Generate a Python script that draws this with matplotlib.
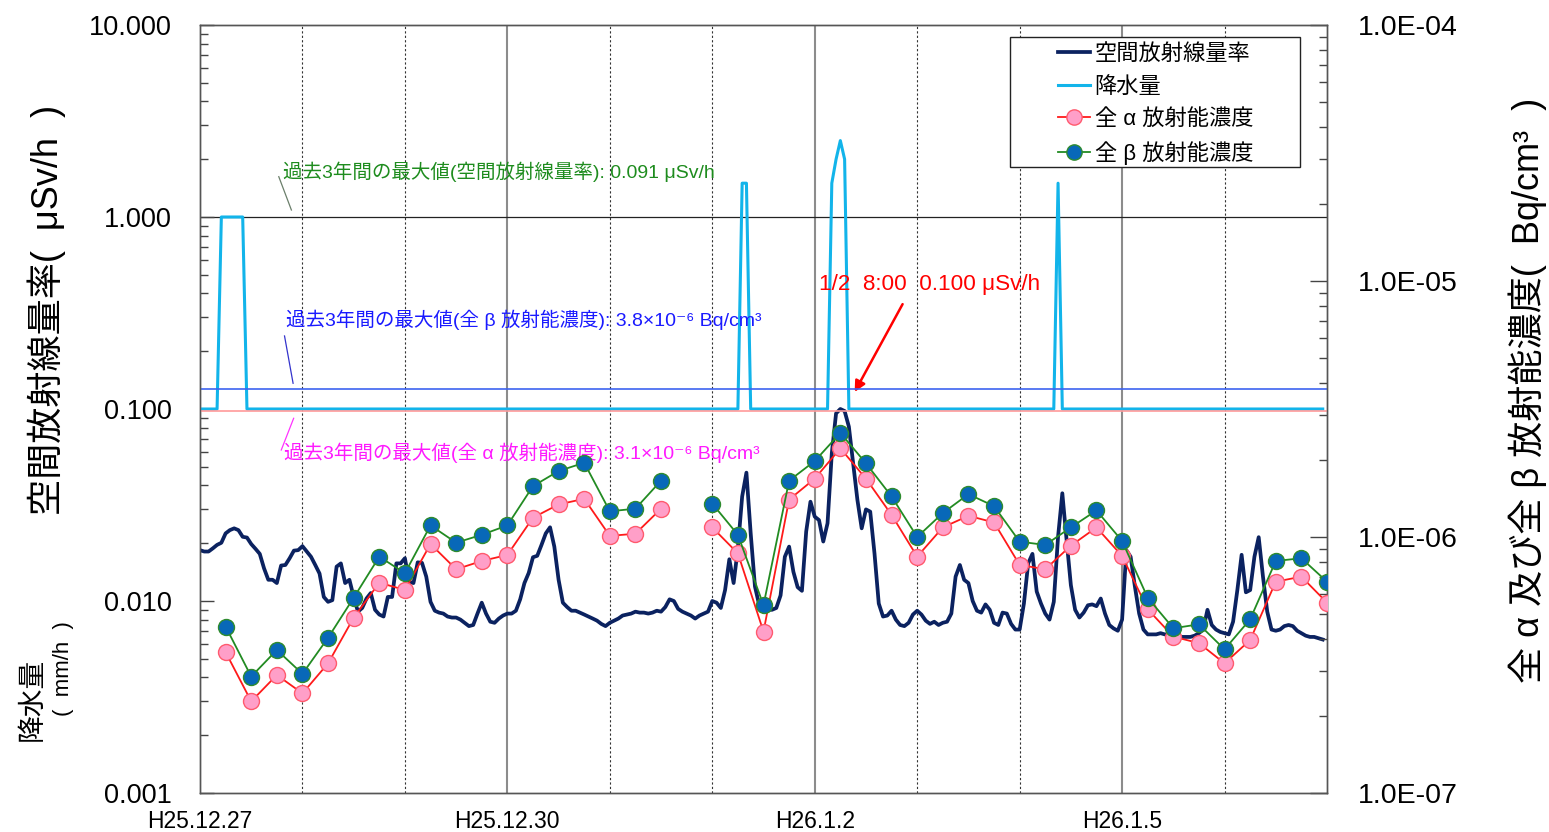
import numpy as np
import matplotlib
matplotlib.use("Agg")
import matplotlib.pyplot as plt
from matplotlib.patches import Rectangle

plt.rcParams['font.family'] = ['Liberation Sans', 'Noto Sans CJK JP', 'DejaVu Sans']
plt.rcParams['axes.unicode_minus'] = False

# ---------------- data ----------------
# hourly air dose rate (uSv/h), 264 hours from H25.12.27 0:00
dose = [
    0.0184, 0.0181, 0.0181, 0.0188, 0.0196, 0.0201, 0.0225, 0.0234, 0.0239, 0.0234,
    0.0216, 0.0214, 0.0198, 0.0187, 0.0176, 0.0148, 0.0129, 0.0129, 0.0124, 0.0153,
    0.0154, 0.0167, 0.0183, 0.0184, 0.0193, 0.0181, 0.0170, 0.0154, 0.0139, 0.0105,
    0.0099, 0.0101, 0.0151, 0.0157, 0.0124, 0.0129, 0.0105, 0.0088, 0.0092, 0.0103,
    0.0110, 0.0090, 0.0085, 0.0083, 0.0105, 0.0105, 0.0157, 0.0157, 0.0167, 0.0126,
    0.0124, 0.0159, 0.0158, 0.0134, 0.0099, 0.0089, 0.0087, 0.0086, 0.0083, 0.0082,
    0.0082, 0.0080, 0.0077, 0.0074, 0.0075, 0.0086, 0.0098, 0.0086, 0.0078, 0.0077,
    0.0081, 0.0084, 0.0086, 0.0086, 0.0089, 0.0102, 0.0124, 0.0140, 0.0169, 0.0172,
    0.0196, 0.0225, 0.0242, 0.0192, 0.0129, 0.0098, 0.0093, 0.0089, 0.0089, 0.0087,
    0.0085, 0.0083, 0.0081, 0.0079, 0.0076, 0.0074, 0.0077, 0.0079, 0.0081, 0.0084,
    0.0085, 0.0086, 0.0088, 0.0087, 0.0087, 0.0086, 0.0087, 0.0089, 0.0088, 0.0093,
    0.0102, 0.0100, 0.0091, 0.0088, 0.0086, 0.0084, 0.0081, 0.0084, 0.0086, 0.0088,
    0.0100, 0.0098, 0.0092, 0.0114, 0.0165, 0.0124, 0.0188, 0.0350, 0.0466, 0.0225,
    0.0119, 0.0095, 0.0090, 0.0090, 0.0090, 0.0092, 0.0107, 0.0170, 0.0192, 0.0142,
    0.0118, 0.0113, 0.0230, 0.0329, 0.0275, 0.0264, 0.0204, 0.0254, 0.0588, 0.0949,
    0.1000, 0.0976, 0.0809, 0.0521, 0.0336, 0.0239, 0.0300, 0.0292, 0.0177, 0.0097,
    0.0083, 0.0084, 0.0089, 0.0080, 0.0075, 0.0074, 0.0077, 0.0085, 0.0089, 0.0085,
    0.0079, 0.0076, 0.0078, 0.0075, 0.0077, 0.0078, 0.0086, 0.0134, 0.0154, 0.0129,
    0.0124, 0.0100, 0.0089, 0.0087, 0.0096, 0.0090, 0.0077, 0.0075, 0.0087, 0.0086,
    0.0076, 0.0071, 0.0071, 0.0097, 0.0157, 0.0176, 0.0112, 0.0097, 0.0086, 0.0080,
    0.0099, 0.0216, 0.0364, 0.0208, 0.0121, 0.0090, 0.0082, 0.0087, 0.0095, 0.0096,
    0.0094, 0.0103, 0.0086, 0.0075, 0.0072, 0.0070, 0.0080, 0.0184, 0.0170, 0.0119,
    0.0086, 0.0071, 0.0067, 0.0067, 0.0067, 0.0068, 0.0067, 0.0067, 0.0067, 0.0066,
    0.0065, 0.0065, 0.0065, 0.0066, 0.0068, 0.0071, 0.0090, 0.0075, 0.0071, 0.0069,
    0.0068, 0.0067, 0.0078, 0.0114, 0.0174, 0.0111, 0.0114, 0.0170, 0.0215, 0.0134,
    0.0088, 0.0071, 0.0070, 0.0071, 0.0074, 0.0075, 0.0074, 0.0070, 0.0068, 0.0066,
    0.0065, 0.0065, 0.0064, 0.0063,
]

# precipitation (mm/h): hours with rain and amounts
rain_hours = [5, 6, 7, 8, 9, 10, 127, 128, 148, 149, 150, 151, 201]
rain_mm = [1.0, 1.0, 1.0, 1.0, 1.0, 1.0, 1.5, 1.5, 1.5, 2.0, 2.5, 2.0, 1.5]

# 6-hourly gross alpha / beta concentrations (Bq/cm3)
dust_hours = [6, 12, 18, 24, 30, 36, 42, 48, 54, 60, 66, 72, 78, 84, 90, 96, 102, 108,
              114, 120, 126, 132, 138, 144, 150, 156, 162, 168, 174, 180, 186, 192,
              198, 204, 210, 216, 222, 228, 234, 240, 246, 252, 258, 264]
beta = [4.47e-7, 2.85e-7, 3.62e-7, 2.92e-7, 4.04e-7, 5.79e-7, 8.38e-7, 7.22e-7,
        1.11e-6, 9.50e-7, 1.02e-6, 1.11e-6, 1.58e-6, 1.81e-6, 1.95e-6, 1.26e-6,
        1.29e-6, 1.66e-6, np.nan, 1.35e-6, 1.02e-6, 5.42e-7, 1.66e-6, 1.98e-6,
        2.55e-6, 1.94e-6, 1.44e-6, 1.00e-6, 1.24e-6, 1.47e-6, 1.32e-6, 9.59e-7,
        9.31e-7, 1.09e-6, 1.27e-6, 9.65e-7, 5.79e-7, 4.40e-7, 4.56e-7, 3.64e-7,
        4.77e-7, 8.06e-7, 8.26e-7, 6.69e-7]
alpha = [3.55e-7, 2.28e-7, 2.89e-7, 2.45e-7, 3.21e-7, 4.84e-7, 6.63e-7, 6.21e-7,
         9.39e-7, 7.48e-7, 8.06e-7, 8.51e-7, 1.19e-6, 1.34e-6, 1.41e-6, 1.01e-6,
         1.03e-6, 1.29e-6, np.nan, 1.09e-6, 8.63e-7, 4.27e-7, 1.40e-6, 1.69e-6,
         2.22e-6, 1.69e-6, 1.22e-6, 8.38e-7, 1.09e-6, 1.21e-6, 1.14e-6, 7.78e-7,
         7.48e-7, 9.25e-7, 1.09e-6, 8.43e-7, 5.22e-7, 4.08e-7, 3.85e-7, 3.21e-7,
         3.96e-7, 6.69e-7, 7.00e-7, 5.54e-7]

max_dose = 0.091      # uSv/h (past 3 years)
max_beta = 3.8e-6     # Bq/cm3
max_alpha = 3.1e-6    # Bq/cm3

day_labels = ["H25.12.27", "H25.12.30", "H26.1.2", "H26.1.5"]
day_label_hours = [0, 72, 144, 216]
n_days = 11

legend_labels = ["空間放射線量率", "降水量", "全 α 放射能濃度", "全 β 放射能濃度"]

# ---------------- figure ----------------
fig = plt.figure(figsize=(15.49, 8.32), dpi=100)
ax = fig.add_axes([200/1549, 39/832, 1127/1549, 768/832])
ax2 = ax.twinx()

hours = np.arange(len(dose))
precip = np.zeros(len(dose))
precip[rain_hours] = rain_mm
precip_plot = np.where(precip > 0, precip, 0.1)

ax.set_yscale('log')
ax.set_ylim(0.001, 10)
ax.set_xlim(0, n_days * 24)
ax2.set_yscale('log')
ax2.set_ylim(1e-7, 1e-4)

# vertical day lines
for d in range(1, n_days):
    if d % 3 == 0:
        ax.axvline(d * 24, color='#8c8c8c', lw=1.5, zorder=1)
    else:
        ax.axvline(d * 24, color='#333333', lw=0.8, ls=(0, (2, 2)), zorder=1)

ax.axhline(1.0, color='#222222', lw=0.9, zorder=1)

l_dose, = ax.plot(hours, dose, color='#0b2260', lw=2.7, zorder=4,
                  solid_joinstyle='round')
l_rain, = ax.plot(hours, precip_plot, color='#12b4ea', lw=2.2, zorder=3)

ax2.axhline(max_beta, color='#3d63f0', lw=1.2, zorder=2)
ax2.axhline(max_alpha, color='#ff9a9a', lw=1.2, zorder=2)

l_alpha, = ax2.plot(dust_hours, alpha, color='#ff1a1a', lw=1.3, marker='o',
                    markersize=11.5, markerfacecolor='#ff9fc8',
                    markeredgecolor='#ff5a6e', markeredgewidth=1.0, zorder=5)
l_beta, = ax2.plot(dust_hours, beta, color='#228b22', lw=1.3, marker='o',
                   markersize=11.5, markerfacecolor='#0868b8',
                   markeredgecolor='#2e8b2e', markeredgewidth=1.0, zorder=6)

# ticks
ax.set_yticks([0.001, 0.01, 0.1, 1, 10])
ax.set_yticklabels(["0.001", "0.010", "0.100", "1.000", "10.000"], fontsize=19.5)
ax.tick_params(axis='y', which='major', direction='in', length=10, width=1,
               pad=20, color='#444444')
ax.tick_params(axis='y', which='minor', direction='in', length=6, width=1,
               color='#444444')
ax.set_xticks(day_label_hours)
ax.set_xticklabels(day_labels, fontsize=16.5)
ax.tick_params(axis='x', length=0, pad=12)

ax2.set_yticks([1e-7, 1e-6, 1e-5, 1e-4])
ax2.set_yticklabels(["1.0E-07", "1.0E-06", "1.0E-05", "1.0E-04"], fontsize=20.5)
ax2.tick_params(axis='y', which='major', direction='in', length=12, width=1,
                pad=22, color='#444444')
ax2.tick_params(axis='y', which='minor', direction='in', length=6, width=1,
                color='#444444')

for a in (ax, ax2):
    for s in a.spines.values():
        s.set_color('#555555')
        s.set_linewidth(1.0)

# axis titles
fig.text(0.030, 0.627, "空間放射線量率(  μSv/h  )", rotation=90, fontsize=26,
         ha='center', va='center')
fig.text(0.021, 0.160, "降水量", rotation=90, fontsize=20, ha='center', va='center')
fig.text(0.041, 0.197, "(  mm/h  )", rotation=90, fontsize=16, ha='center', va='center')
fig.text(0.986, 0.531, "全 α 及び全 β 放射能濃度(  Bq/cm³  )", rotation=90,
         fontsize=26, ha='center', va='center')

# reference annotations
T = ax.transAxes
ax.text(0.0736, 0.8086, "過去3年間の最大値(空間放射線量率): 0.091 μSv/h",
        transform=T, color='#1e8c1e', fontsize=14, va='center', ha='left')
ax.plot([0.0699, 0.0811], [0.8025, 0.7591], transform=T, color='#6b7f6b', lw=0.9)

ax.text(0.0763, 0.6159, "過去3年間の最大値(全 β 放射能濃度): 3.8×10⁻⁶ Bq/cm³",
        transform=T, color='#1a1aff', fontsize=14, va='center', ha='left')
ax.plot([0.0750, 0.0826], [0.5951, 0.5335], transform=T, color='#3333cc', lw=0.9)

ax.text(0.0745, 0.4431, "過去3年間の最大値(全 α 放射能濃度): 3.1×10⁻⁶ Bq/cm³",
        transform=T, color='#ff1aff', fontsize=14, va='center', ha='left')
ax.plot([0.0831, 0.0721], [0.4879, 0.4466], transform=T, color='#ff33ff', lw=0.9)

ax.text(0.5492, 0.6624, "1/2  8:00  0.100 μSv/h", transform=T, color='#ff0000',
        fontsize=16.2, va='center', ha='left')
ax.annotate("", xy=(0.5797, 0.5190), xytext=(0.6246, 0.6397), xycoords=T,
            textcoords=T,
            arrowprops=dict(arrowstyle='-|>', color='#ff0000', lw=1.8,
                            mutation_scale=16))

# legend (frame drawn separately to match the wide box)
ax2.add_patch(Rectangle((0.7187, 0.8151), 0.2573, 0.1693, transform=ax2.transAxes,
                        facecolor='white', edgecolor='#222222', lw=1.0, zorder=7))
leg = ax2.legend([l_dose, l_rain, l_alpha, l_beta], legend_labels,
                 loc='upper left', bbox_to_anchor=(0.7612, 0.975), fontsize=16,
                 frameon=False, handlelength=1.45, labelspacing=0.51,
                 borderpad=0, handletextpad=0.2, borderaxespad=0)
leg.set_zorder(8)
for h in leg.legend_handles:
    if hasattr(h, 'set_markersize'):
        h.set_markersize(11)

fig.savefig("out.png", dpi=100)
